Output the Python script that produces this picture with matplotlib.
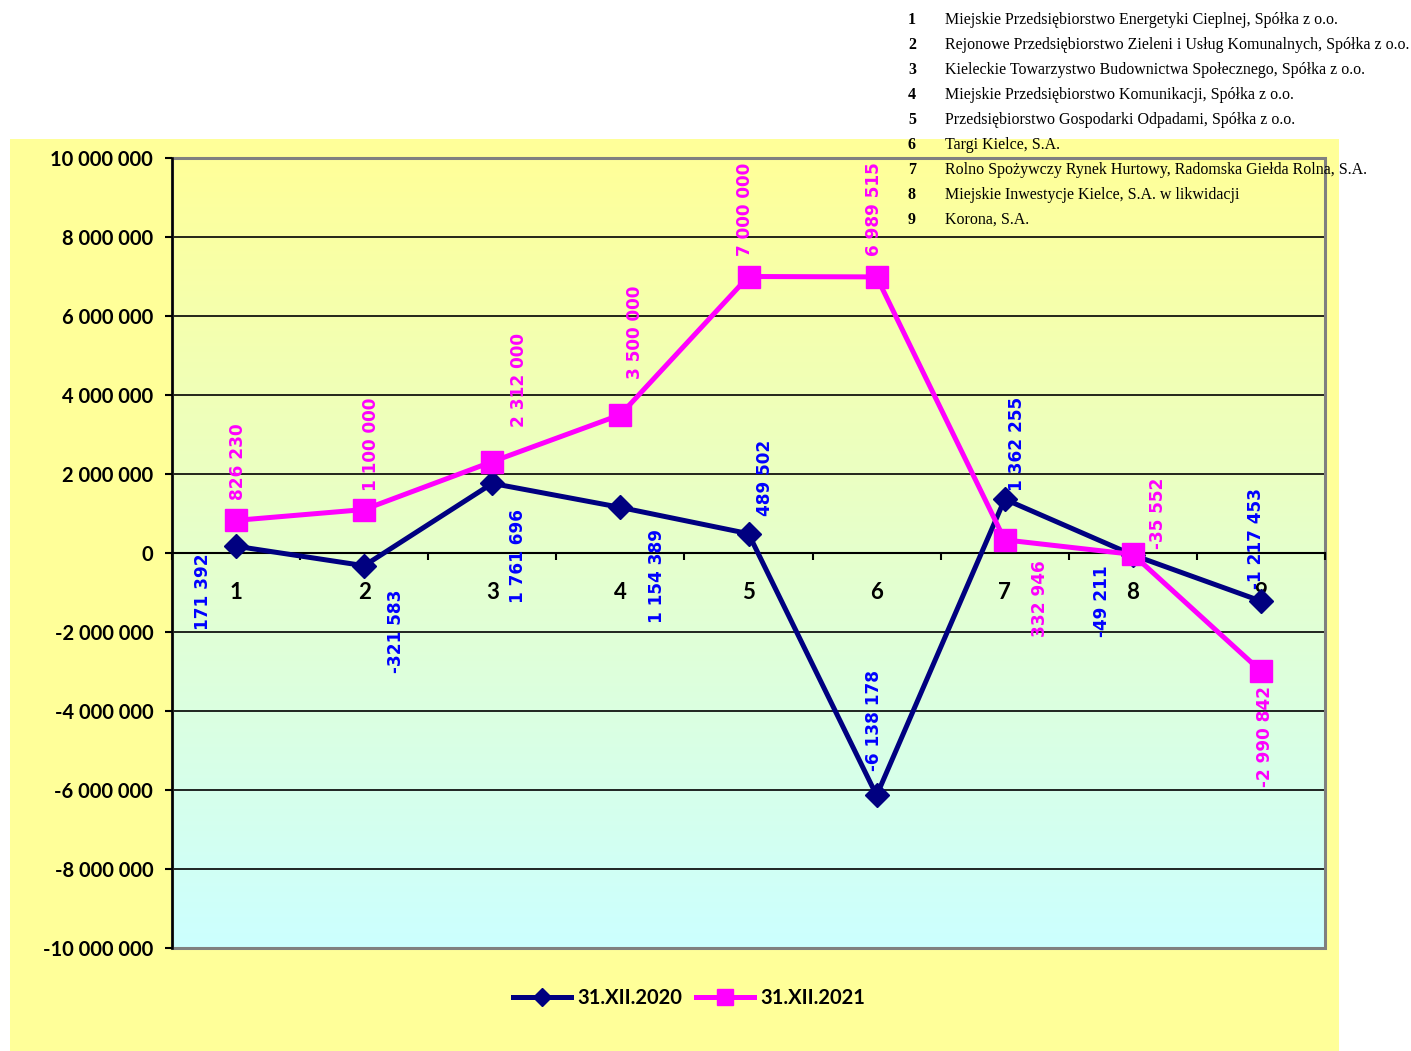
import numpy as np
import matplotlib
matplotlib.use("Agg")
import matplotlib.pyplot as plt
from matplotlib.patches import Rectangle
from matplotlib.lines import Line2D

# company numbers and names listed in the corner
company_ids = ["1", "2", "3", "4", "5", "6", "7", "8", "9"]
company_names = [
    "Miejskie Przedsiębiorstwo Energetyki Cieplnej, Spółka z o.o.",
    "Rejonowe Przedsiębiorstwo Zieleni i Usług Komunalnych, Spółka z o.o.",
    "Kieleckie Towarzystwo Budownictwa Społecznego, Spółka z o.o.",
    "Miejskie Przedsiębiorstwo Komunikacji, Spółka z o.o.",
    "Przedsiębiorstwo Gospodarki Odpadami, Spółka z o.o.",
    "Targi Kielce, S.A.",
    "Rolno Spożywczy Rynek Hurtowy, Radomska Giełda Rolna, S.A.",
    "Miejskie Inwestycje Kielce, S.A. w likwidacji",
    "Korona, S.A.",
]

series_2020 = [171392, -321583, 1761696, 1154389, 489502, -6138178, 1362255, -49211, -1217453]
series_2021 = [826230, 1100000, 2312000, 3500000, 7000000, 6989515, 332946, -35552, -2990842]
labels = ["31.XII.2020", "31.XII.2021"]

# label offsets in pixels (dx, dy) and whether text sits above or below the point
offs_2020 = [(-33, -7, "top"), (32, -24, "top"), (26, -26, "top"), (37, -22, "top"),
             (17, 18, "bottom"), (-3, 24, "bottom"), (12, 8, "bottom"), (-31, -10, "top"),
             (-5, 12, "bottom")]
offs_2021 = [(2, 20, "bottom"), (7, 19, "bottom"), (27, 35, "bottom"), (15, 36, "bottom"),
             (-3, 21, "bottom"), (-3, 21, "bottom"), (35, -20, "top"), (25, 5, "bottom"),
             (4, -15, "top")]

NAVY = "#000080"
MAGENTA = "#FF00FF"
BLUE = "#0000FF"
YELLOW = "#FFFF99"


def fmt(v):
    s = f"{abs(int(v)):,}".replace(",", " ")
    return ("-" if v < 0 else "") + s


W, H = 1411, 1051
fig = plt.figure(figsize=(W / 100, H / 100), dpi=100)
fig.patch.set_facecolor("white")

# yellow chart area
fig.add_artist(Rectangle((10 / W, 0), 1329 / W, (H - 139) / H, transform=fig.transFigure,
                         facecolor=YELLOW, edgecolor="none", zorder=0))

ax = fig.add_axes([172 / W, 1 - 948 / H, (1325 - 172) / W, (948 - 158) / H])
ax.set_facecolor("none")

# plot area gradient: yellow at the top to light cyan at the bottom
top = np.array([255, 255, 153]) / 255
bot = np.array([204, 255, 255]) / 255
t = np.linspace(0, 1, 256)[:, None]
grad = (top * (1 - t) + bot * t)[:, None, :]
ax.imshow(grad, extent=[0, 1, 0, 1], transform=ax.transAxes, aspect="auto", zorder=0)

x = np.arange(1, len(company_ids) + 1)
ax.set_xlim(0.5, len(company_ids) + 0.5)
ax.set_ylim(-10_000_000, 10_000_000)

yt = np.arange(-10_000_000, 10_000_001, 2_000_000)
ax.set_yticks(yt)
ax.set_yticklabels([fmt(v) for v in yt])
for v in yt[1:-1]:
    if v != 0:
        ax.axhline(v, color="black", lw=1.2, zorder=1)

ax.spines["bottom"].set_position(("data", 0))
ax.spines["bottom"].set_linewidth(1.5)
ax.spines["left"].set_linewidth(1.8)
ax.spines["top"].set_visible(False)
ax.spines["right"].set_visible(False)
ax.add_patch(Rectangle((0, 0), 1, 1, transform=ax.transAxes, fill=False,
                       edgecolor="#808080", lw=2.2, zorder=1.5, clip_on=False))

ax.set_xticks(np.arange(0.5, len(company_ids) + 1, 1))
ax.set_xticklabels([])
ax.set_xticks(x, minor=True)
ax.set_xticklabels(company_ids, minor=True)
ax.tick_params(axis="x", which="major", direction="out", length=5, width=1.5)
ax.tick_params(axis="x", which="minor", length=0, pad=21)
ax.tick_params(axis="y", direction="out", length=5, width=1.5, pad=8.5)
for lab in ax.get_yticklabels() + ax.get_xticklabels(minor=True):
    lab.set_fontfamily("Lato")
    lab.set_fontweight("bold")
    lab.set_fontsize(14.5)
for lab in ax.get_xticklabels(minor=True):
    lab.set_fontsize(16)

ax.plot(x, series_2020, color=NAVY, lw=3.6, marker="D", ms=12.5, zorder=3, clip_on=False)
ax.plot(x, series_2021, color=MAGENTA, lw=3.6, marker="s", ms=16.5, zorder=4, clip_on=False)

for xs, ys, offs, col in [(x, series_2020, offs_2020, BLUE), (x, series_2021, offs_2021, MAGENTA)]:
    for xi, yi, (dx, dy, va) in zip(xs, ys, offs):
        ax.annotate(fmt(yi), (xi, yi), xytext=(dx, dy), textcoords="offset pixels",
                    rotation=90, ha="center", va=va, color=col, fontsize=12.2,
                    fontweight="bold", family="DejaVu Sans", zorder=5)

# legend below the plot
handles = [
    Line2D([], [], color=NAVY, lw=3.6, marker="D", ms=9),
    Line2D([], [], color=MAGENTA, lw=3.6, marker="s", ms=11.5),
]
fig.legend(handles, labels, loc="center", bbox_to_anchor=(689 / W, 1 - 998 / H), ncol=2,
           frameon=False, handlelength=2.9, handletextpad=0.3, columnspacing=0.7,
           prop={"family": "Lato", "weight": "bold", "size": 14.5})

# list of companies in the top right corner
for i, (cid, name) in enumerate(zip(company_ids, company_names)):
    yy = 1 - (20 + 25 * i) / H
    fig.text(912 / W, yy, cid, ha="center", va="center", fontsize=11.5,
             family="Liberation Serif", fontweight="bold", zorder=10)
    fig.text(945 / W, yy, name, ha="left", va="center", fontsize=11.5,
             family="Liberation Serif", zorder=10)

fig.savefig("out.png", dpi=100)
